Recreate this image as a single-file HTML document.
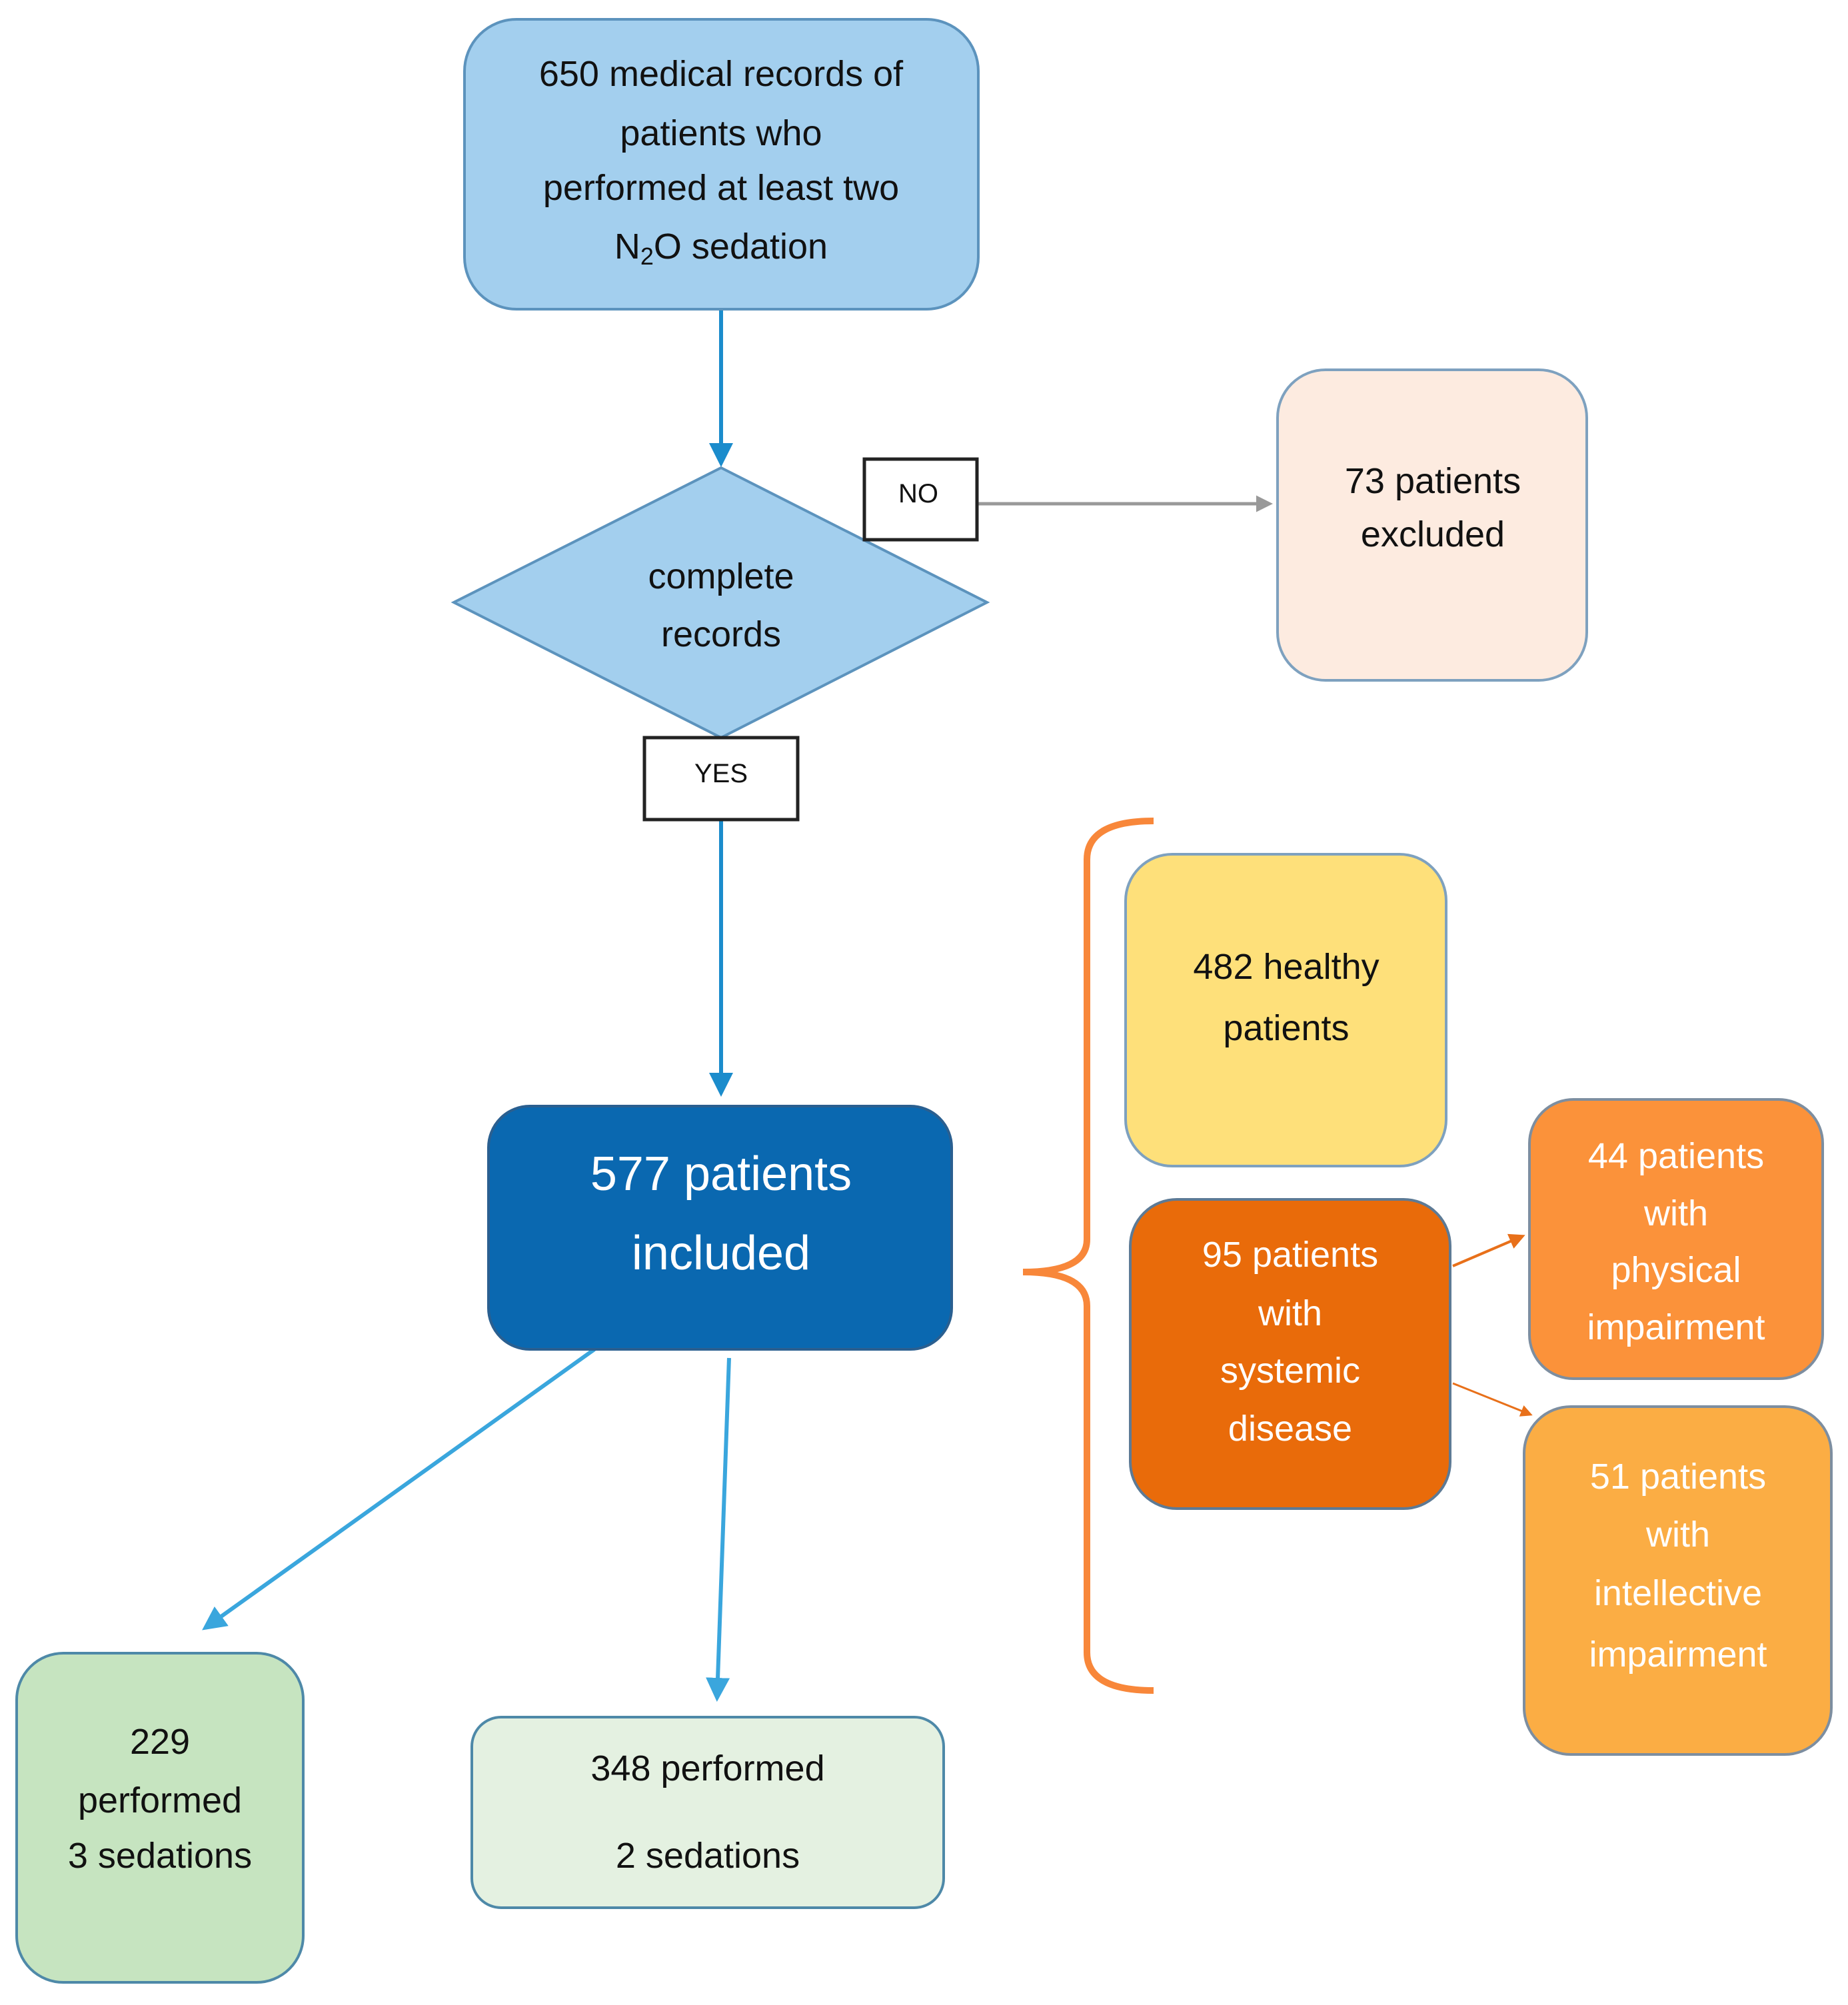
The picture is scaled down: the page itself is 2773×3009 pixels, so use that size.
<!DOCTYPE html>
<html><head><meta charset="utf-8"><style>html,body{margin:0;padding:0;background:#fff}svg{display:block}</style></head><body>
<svg width="2773" height="3009" viewBox="0 0 2773 3009" xmlns="http://www.w3.org/2000/svg" font-family="Liberation Sans, sans-serif">
<defs>
<marker id="ab" markerWidth="6" markerHeight="6" refX="5" refY="3" orient="auto" markerUnits="strokeWidth"><path d="M0,0 L6,3 L0,6 z" fill="#1b8ccc"/></marker>
<marker id="al" markerWidth="6" markerHeight="6" refX="5" refY="3" orient="auto" markerUnits="strokeWidth"><path d="M0,0 L6,3 L0,6 z" fill="#3aa6dd"/></marker>
<marker id="ag" markerWidth="5" markerHeight="5" refX="4" refY="2.5" orient="auto" markerUnits="strokeWidth"><path d="M0,0 L5,2.5 L0,5 z" fill="#999"/></marker>
<marker id="ao" markerWidth="6" markerHeight="6" refX="5" refY="3" orient="auto" markerUnits="strokeWidth"><path d="M0,0 L6,3 L0,6 z" fill="#e8701a"/></marker>
</defs>
<g text-anchor="middle" dominant-baseline="central">
<!-- connectors -->
<line x1="1082" y1="464" x2="1082" y2="695" stroke="#1b8ccc" stroke-width="6" marker-end="url(#ab)"/>
<line x1="1466" y1="756" x2="1905" y2="756" stroke="#999" stroke-width="5" marker-end="url(#ag)"/>
<line x1="1082" y1="1230" x2="1082" y2="1640" stroke="#1b8ccc" stroke-width="6" marker-end="url(#ab)"/>
<line x1="892" y1="2025" x2="308" y2="2443" stroke="#3aa6dd" stroke-width="6" marker-end="url(#al)"/>
<line x1="1094" y1="2038" x2="1076" y2="2548" stroke="#3aa6dd" stroke-width="6" marker-end="url(#al)"/>
<line x1="2180" y1="1900" x2="2285" y2="1855" stroke="#e8701a" stroke-width="4" marker-end="url(#ao)"/>
<line x1="2180" y1="2076" x2="2297" y2="2123" stroke="#e8701a" stroke-width="3" marker-end="url(#ao)"/>
<!-- brace -->
<path d="M1731,1232 Q1631,1232 1631,1290 L1631,1860 Q1631,1909 1535,1909 Q1631,1909 1631,1960 L1631,2480 Q1631,2537 1731,2537" fill="none" stroke="#f8873a" stroke-width="10"/>
<!-- top box -->
<rect x="697" y="29" width="771" height="435" rx="78" fill="#a3cfee" stroke="#5c93bd" stroke-width="4"/>
<g font-size="54" fill="#111">
<text x="1082" y="111">650 medical records of</text>
<text x="1082" y="200">patients who</text>
<text x="1082" y="282">performed at least two</text>
<text x="1082" y="370">N<tspan font-size="36" dy="14">2</tspan><tspan dy="-14">O sedation</tspan></text>
</g>
<!-- diamond -->
<polygon points="1082,702 1481,904 1082,1107 681,904" fill="#a3cfee" stroke="#5c93bd" stroke-width="4"/>
<text x="1082" y="865" font-size="54" fill="#111">complete</text>
<text x="1082" y="952" font-size="54" fill="#111">records</text>
<!-- NO -->
<rect x="1297" y="689" width="169" height="121" fill="#fff" stroke="#222" stroke-width="5"/>
<text x="1378" y="741" font-size="40" fill="#111">NO</text>
<!-- 73 -->
<rect x="1917" y="555" width="464" height="466" rx="72" fill="#fdebe0" stroke="#7ea1bf" stroke-width="4"/>
<text x="2150" y="722" font-size="54" fill="#111">73 patients</text>
<text x="2150" y="802" font-size="54" fill="#111">excluded</text>
<!-- YES -->
<rect x="967" y="1107" width="230" height="123" fill="#fff" stroke="#222" stroke-width="5"/>
<text x="1082" y="1161" font-size="40" fill="#111">YES</text>
<!-- 577 -->
<rect x="733" y="1660" width="695" height="365" rx="62" fill="#0a68b0" stroke="#2a5f90" stroke-width="4"/>
<text x="1082" y="1762" font-size="72" fill="#fff">577 patients</text>
<text x="1082" y="1881" font-size="72" fill="#fff">included</text>
<!-- 482 -->
<rect x="1689" y="1282" width="481" height="468" rx="70" fill="#fee07a" stroke="#7ea1bf" stroke-width="4"/>
<text x="1930" y="1451" font-size="54" fill="#111">482 healthy</text>
<text x="1930" y="1543" font-size="54" fill="#111">patients</text>
<!-- 95 -->
<rect x="1696" y="1800" width="480" height="464" rx="70" fill="#e96b0a" stroke="#5d7a95" stroke-width="4"/>
<g font-size="54" fill="#fff">
<text x="1936" y="1883">95 patients</text><text x="1936" y="1971">with</text><text x="1936" y="2057">systemic</text><text x="1936" y="2144">disease</text>
</g>
<!-- 44 -->
<rect x="2295" y="1650" width="440" height="419" rx="66" fill="#fb923a" stroke="#7d8ea0" stroke-width="4"/>
<g font-size="54" fill="#fff">
<text x="2515" y="1735">44 patients</text><text x="2515" y="1821">with</text><text x="2515" y="1906">physical</text><text x="2515" y="1992">impairment</text>
</g>
<!-- 51 -->
<rect x="2287" y="2111" width="461" height="522" rx="70" fill="#fbad44" stroke="#7d8ea0" stroke-width="4"/>
<g font-size="54" fill="#fff">
<text x="2518" y="2216">51 patients</text><text x="2518" y="2303">with</text><text x="2518" y="2391">intellective</text><text x="2518" y="2483">impairment</text>
</g>
<!-- 229 -->
<rect x="25" y="2481" width="430" height="494" rx="70" fill="#c6e4c0" stroke="#4e89a8" stroke-width="4"/>
<g font-size="54" fill="#111">
<text x="240" y="2614">229</text><text x="240" y="2702">performed</text><text x="240" y="2785">3 sedations</text>
</g>
<!-- 348 -->
<rect x="708" y="2577" width="708" height="286" rx="44" fill="#e4f1e1" stroke="#4e89a8" stroke-width="4"/>
<text x="1062" y="2654" font-size="54" fill="#111">348 performed</text>
<text x="1062" y="2785" font-size="54" fill="#111">2 sedations</text>
</g>
</svg>
</body></html>
